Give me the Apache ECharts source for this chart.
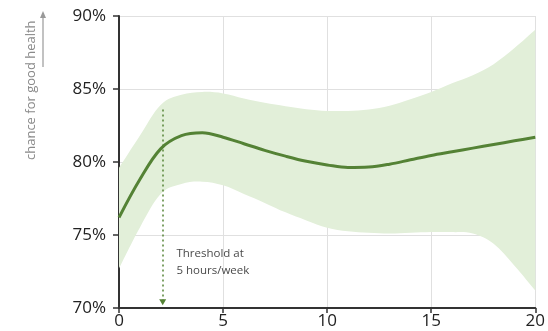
<!DOCTYPE html>
<html><head><meta charset="utf-8">
<script src="https://cdn.jsdelivr.net/npm/echarts@6/dist/echarts.min.js"></script>
<style>html,body{margin:0;padding:0;background:#fff}#c{width:548px;height:331px}</style>
</head><body><div id="c"></div>
<script>
const hours = [0,1,2,3,4,5,6,7,8,9,10,11,12,13,14,15,16,17,18,19,20];
const meanVals  = [76.2,78.8,80.9,81.8,82.0,81.7,81.25,80.8,80.4,80.05,79.8,79.62,79.65,79.85,80.15,80.45,80.7,80.95,81.2,81.45,81.7];
const upperVals = [79.6,81.8,83.9,84.6,84.8,84.7,84.35,84.05,83.82,83.62,83.5,83.5,83.6,83.85,84.3,84.8,85.4,85.95,86.7,87.8,89.05];
const lowerVals = [72.7,75.5,77.8,78.5,78.65,78.4,77.8,77.2,76.55,76.0,75.5,75.25,75.15,75.1,75.15,75.2,75.2,75.1,74.4,72.9,71.2];
const threshold = {x: 2.1, top: 83.6, bottom: 70.4};
const yTicks = [70,75,80,85,90];
const xTicks = [0,5,10,15,20];

const font = '"Open Sans", sans-serif';

// smooth path (Catmull-Rom -> cubic Bezier) through pixel points
function curveSeg(pts, start){
  let d = start ? 'M'+pts[0][0]+','+pts[0][1] : 'L'+pts[0][0]+','+pts[0][1];
  const t = 0.18;
  for(let i=0;i<pts.length-1;i++){
    const p0=pts[Math.max(i-1,0)],p1=pts[i],p2=pts[i+1],p3=pts[Math.min(i+2,pts.length-1)];
    const c1=[p1[0]+(p2[0]-p0[0])*t,p1[1]+(p2[1]-p0[1])*t];
    const c2=[p2[0]-(p3[0]-p1[0])*t,p2[1]-(p3[1]-p1[1])*t];
    d+='C'+c1[0]+','+c1[1]+','+c2[0]+','+c2[1]+','+p2[0]+','+p2[1];
  }
  return d;
}

const chart = echarts.init(document.getElementById('c'));
chart.setOption({
  animation:false,
  grid:{left:119,right:8,top:16,bottom:23},
  xAxis:{type:'value',min:0,max:20,interval:5,
    axisLine:{show:true,lineStyle:{color:'#333',width:2}},
    axisTick:{show:true,length:5,lineStyle:{color:'#333',width:1.5}},
    axisLabel:{color:'#222',fontSize:17,fontFamily:font,margin:5,alignMinLabel:'center',alignMaxLabel:'center'},
    splitLine:{show:true,lineStyle:{color:'#e0e0e0'}}},
  yAxis:{type:'value',min:70,max:90,interval:5,
    axisLine:{show:true,lineStyle:{color:'#333',width:2}},
    axisTick:{show:true,length:6,lineStyle:{color:'#333',width:1.5}},
    axisLabel:{color:'#222',fontSize:17,fontFamily:font,margin:13,formatter:v=>v+'%'},
    splitLine:{show:true,lineStyle:{color:'#e0e0e0'}}},
  graphic:[
    {type:'text',x:31,y:160,rotation:Math.PI/2,style:{text:'chance for good health',fill:'#8a8a8a',font:'13px '+font,align:'left',verticalAlign:'middle'}},
    {type:'line',shape:{x1:43,y1:67,x2:43,y2:16},style:{stroke:'#999',lineWidth:1.2}},
    {type:'polygon',shape:{points:[[40,18],[46,18],[43,11]]},style:{fill:'#999'}}
  ],
  series:[
    {type:'custom',name:'band',silent:true,z:1,clip:true,
      data:[0],
      renderItem:function(params,api){
        const up = hours.map((h,i)=>api.coord([h,upperVals[i]]));
        const lo = hours.map((h,i)=>api.coord([h,lowerVals[i]])).reverse();
        const d = curveSeg(up,true)+curveSeg(lo,false)+'Z';
        return {type:'path',shape:{pathData:d},style:{fill:'#e2efd9',stroke:null}};
      }},
    {type:'line',name:'mean',data:hours.map((h,i)=>[h,meanVals[i]]),smooth:0.35,symbol:'none',
      lineStyle:{color:'#548235',width:3},z:5,
      markLine:{silent:true,symbol:['none','triangle'],symbolSize:[7,6],
        lineStyle:{color:'#548235',type:[2,3],width:1.5},label:{show:false},
        data:[[{coord:[threshold.x,threshold.top]},{coord:[threshold.x,threshold.bottom]}]]},
      markPoint:{silent:true,symbol:'circle',symbolSize:0,
        data:[{coord:[threshold.x+0.66,73.15],label:{show:true,position:'right',distance:0,
          formatter:'Threshold at\n5 hours/week',color:'#4a4a4a',fontSize:11.5,lineHeight:17,fontFamily:font,align:'left'}}]}
    }
  ]
});
</script></body></html>
